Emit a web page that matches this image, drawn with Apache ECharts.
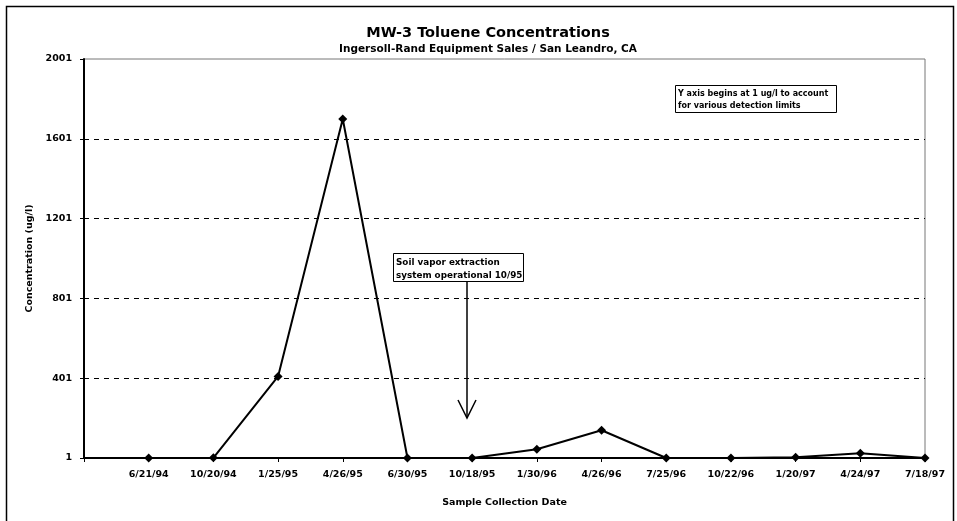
<!DOCTYPE html>
<html>
<head>
<meta charset="utf-8">
<script src="https://cdn.jsdelivr.net/npm/echarts@6/dist/echarts.min.js"></script>
<style>
  html, body { margin: 0; padding: 0; background: #fff; }
  #chart { width: 957px; height: 521px; }
</style>
</head>
<body>
<div id="chart"></div>
<script>
// Sample dates (leading blank slot keeps the first sample off the y axis)
const dates = ['', '6/21/94', '10/20/94', '1/25/95', '4/26/95', '6/30/95', '10/18/95',
  '1/30/96', '4/26/96', '7/25/96', '10/22/96', '1/20/97', '4/24/97', '7/18/97'];
// Toluene concentration, ug/l
const toluene = ['-', 1, 2, 410, 1700, 1, 1, 45, 140, 1, 1, 5, 25, 1];
// Concentration axis
const yMin = 1, yMax = 2001, yStep = 400;
const gridValues = [401, 801, 1201, 1601];

const FONT = 'DejaVu Sans';
const chart = echarts.init(document.getElementById('chart'));

chart.setOption({
  animation: false,
  backgroundColor: '#fff',
  title: [
    {
      text: 'MW-3 Toluene Concentrations',
      left: 483, top: 21, textAlign: 'center',
      textStyle: { fontFamily: FONT, fontWeight: 'bold', fontSize: 14.5, color: '#000' }
    },
    {
      text: 'Ingersoll-Rand Equipment Sales / San Leandro, CA',
      left: 483, top: 39, textAlign: 'center',
      textStyle: { fontFamily: FONT, fontWeight: 'bold', fontSize: 10.5, color: '#000' }
    }
  ],
  grid: {
    left: 84, right: 32, top: 59, bottom: 63,
    show: true, borderColor: '#777', borderWidth: 1, backgroundColor: 'transparent'
  },
  xAxis: {
    type: 'category',
    data: dates,
    boundaryGap: false,
    name: 'Sample Collection Date',
    nameLocation: 'middle',
    nameGap: 40,
    nameTextStyle: { fontFamily: FONT, fontWeight: 'bold', fontSize: 9.5, color: '#000' },
    axisLine: { lineStyle: { color: '#000', width: 2 } },
    axisTick: { show: true, inside: false, length: 4, interval: 0, lineStyle: { color: '#000' } },
    axisLabel: {
      interval: 0, margin: 12,
      fontFamily: FONT, fontWeight: 'bold', fontSize: 9.5, color: '#000'
    },
    splitLine: { show: false }
  },
  yAxis: {
    type: 'value',
    min: yMin, max: yMax, interval: yStep,
    name: 'Concentration (ug/l)',
    nameLocation: 'middle',
    nameGap: 45,
    nameRotate: 90,
    nameTextStyle: { fontFamily: FONT, fontWeight: 'bold', fontSize: 9.5, color: '#000' },
    axisLine: { show: true, lineStyle: { color: '#000', width: 2 } },
    axisTick: { show: true, inside: false, length: 4, lineStyle: { color: '#000' } },
    axisLabel: {
      margin: 12, formatter: v => String(v),
      fontFamily: FONT, fontWeight: 'bold', fontSize: 9.5, color: '#000'
    },
    splitLine: { show: false }
  },
  series: [{
    name: 'Toluene',
    type: 'line',
    data: toluene,
    symbol: 'diamond',
    symbolSize: 9,
    itemStyle: { color: '#000' },
    lineStyle: { color: '#000', width: 2 },
    markLine: {
      silent: true,
      symbol: ['none', 'none'],
      label: { show: false },
      lineStyle: { color: '#000', type: [5, 5], width: 1 },
      data: gridValues.map(v => ({ yAxis: v }))
    },
    z: 3
  }],
  graphic: [
    // outer frame
    {
      type: 'rect', z: 0, silent: true,
      shape: { x: 6.5, y: 6.5, width: 947, height: 540 },
      style: { fill: 'none', stroke: '#000', lineWidth: 1.5 }
    },
    // note on the y axis start
    {
      type: 'rect', silent: true,
      shape: { x: 675.5, y: 85.5, width: 161, height: 27 },
      style: { fill: '#fff', stroke: '#000', lineWidth: 1 }
    },
    {
      type: 'text', silent: true, left: 678, top: 88,
      style: {
        text: 'Y axis begins at 1 ug/l to account\nfor various detection limits',
        fontFamily: FONT, fontWeight: 'bold', fontSize: 8, lineHeight: 12, fill: '#000'
      }
    },
    // soil vapor extraction note and arrow
    {
      type: 'rect', silent: true,
      shape: { x: 393.5, y: 253.5, width: 130, height: 28 },
      style: { fill: '#fff', stroke: '#000', lineWidth: 1 }
    },
    {
      type: 'text', silent: true, left: 396, top: 256,
      style: {
        text: 'Soil vapor extraction\nsystem operational 10/95',
        fontFamily: FONT, fontWeight: 'bold', fontSize: 8.8, lineHeight: 13, fill: '#000'
      }
    },
    {
      type: 'line', silent: true,
      shape: { x1: 467, y1: 282, x2: 467, y2: 418 },
      style: { stroke: '#000', lineWidth: 1.5 }
    },
    {
      type: 'polyline', silent: true,
      shape: { points: [[458, 400], [467, 418], [476, 400]] },
      style: { stroke: '#000', lineWidth: 1.5, fill: 'none' }
    }
  ]
});
</script>
</body>
</html>
